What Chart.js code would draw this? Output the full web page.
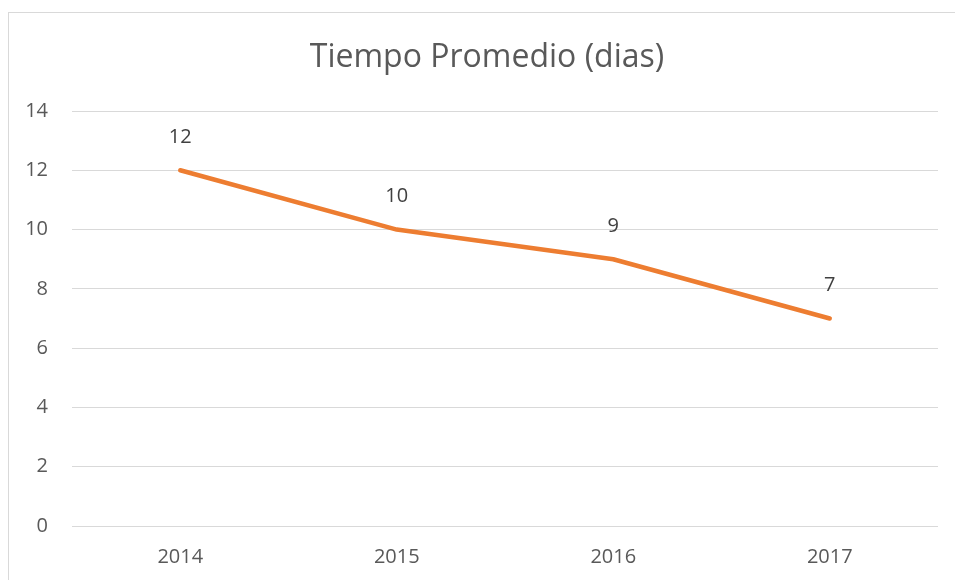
<!DOCTYPE html>
<html>
<head>
<meta charset="utf-8">
<script src="https://cdn.jsdelivr.net/npm/chart.js@4/dist/chart.umd.min.js"></script>
<style>
  html, body { margin: 0; padding: 0; background: #fff; overflow: hidden; }
  #wrap { position: relative; width: 955px; height: 580px; }
  #frame { position: absolute; left: 8px; top: 12px; width: 1200px; height: 1000px;
           border-left: 1px solid #d9d9d9; border-top: 1px solid #d9d9d9; }
  #myChart { position: absolute; left: 0; top: 0; }
</style>
</head>
<body>
<div id="wrap">
  <div id="frame"></div>
  <canvas id="myChart" width="955" height="580"></canvas>
</div>
<script>
const chartTitle = 'Tiempo Promedio (dias)';
const years = ['2014', '2015', '2016', '2017'];
const tiempo = [12, 10, 9, 7];
const yTicks = [0, 2, 4, 6, 8, 10, 12, 14];

const FONT = '"Open Sans", sans-serif';

// titulo centrado sobre el marco (no sobre el canvas)
const frameTitle = {
  id: 'frameTitle',
  afterDraw(chart) {
    const c = chart.ctx;
    c.save();
    c.font = '32px ' + FONT;
    c.fillStyle = '#595959';
    c.textAlign = 'center';
    c.textBaseline = 'middle';
    c.fillText(chartTitle, 487, 58);
    c.restore();
  }
};

// etiquetas de datos encima de cada punto
const valueLabels = {
  id: 'valueLabels',
  afterDatasetsDraw(chart) {
    const c = chart.ctx;
    const meta = chart.getDatasetMeta(0);
    c.save();
    c.font = '20px ' + FONT;
    c.fillStyle = '#404040';
    c.textAlign = 'center';
    c.textBaseline = 'middle';
    meta.data.forEach((pt, i) => {
      c.fillText(String(tiempo[i]), pt.x, pt.y - 33);
    });
    c.restore();
  }
};

const ctx = document.getElementById('myChart');

var myChart = new Chart(ctx, {
  type: 'line',
  data: {
    labels: years,
    datasets: [{
      label: chartTitle,
      data: tiempo,
      borderColor: '#ED7D31',
      backgroundColor: '#ED7D31',
      borderWidth: 4.5,
      borderCapStyle: 'round',
      borderJoinStyle: 'round',
      pointRadius: 0,
      tension: 0,
    }]
  },
  options: {
    responsive: false,
    animation: false,
    layout: { padding: { left: 0, right: 17, top: 111, bottom: 0 } },
    plugins: {
      legend: { display: false },
      tooltip: { enabled: false },
      title: { display: false },
    },
    scales: {
      x: {
        offset: true,
        grid: { display: false, drawTicks: false },
        border: { display: false },
        ticks: {
          color: '#595959',
          font: { family: FONT, size: 20 },
          padding: 19,
        },
        afterFit(scale) { scale.height = 54; },
      },
      y: {
        min: 0,
        max: 14,
        afterBuildTicks(scale) { scale.ticks = yTicks.map(v => ({ value: v })); },
        grid: { color: '#d9d9d9', lineWidth: 1, drawTicks: false },
        border: { display: false },
        ticks: {
          color: '#595959',
          font: { family: FONT, size: 20 },
          padding: 24,
        },
        afterFit(scale) { scale.width = 72; },
      },
    },
  },
  plugins: [valueLabels, frameTitle],
});
</script>
</body>
</html>
